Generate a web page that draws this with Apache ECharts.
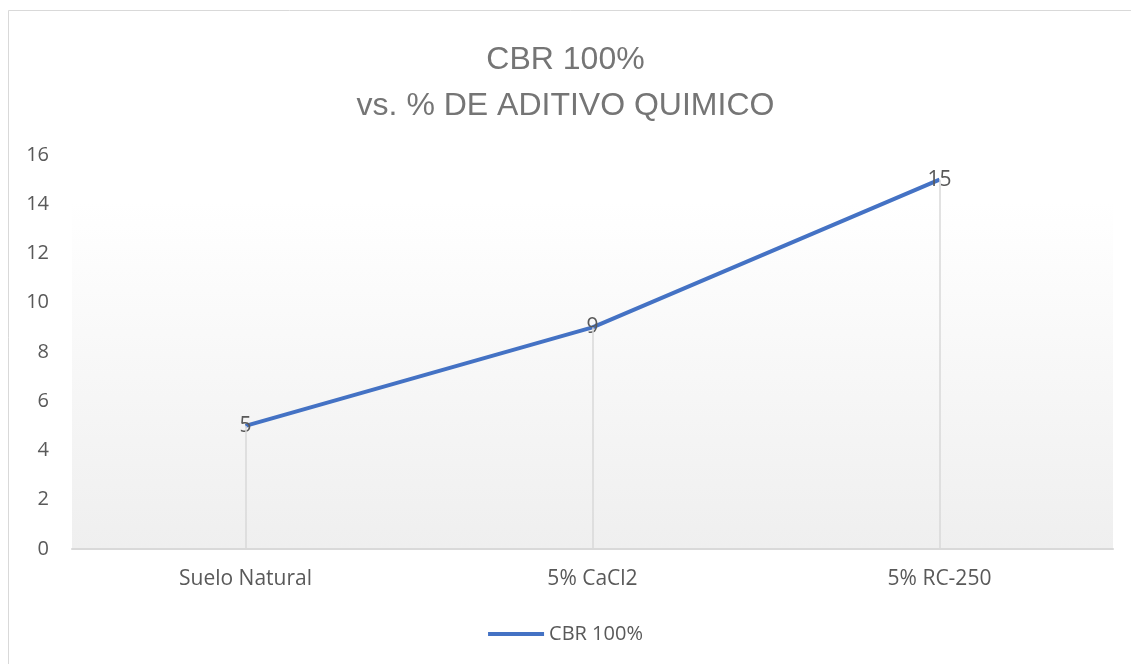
<!DOCTYPE html>
<html>
<head>
<meta charset="utf-8">
<script src="https://cdn.jsdelivr.net/npm/echarts@6/dist/echarts.min.js"></script>
<style>
  html, body { margin: 0; padding: 0; background: #fff; }
  #chart { width: 1131px; height: 664px; }
</style>
</head>
<body>
<div id="chart"></div>
<script>
  // datos
  var categories = ['Suelo Natural', '5% CaCl2', '5% RC-250'];
  var cbrValues = [5, 9, 15];
  var seriesName = 'CBR 100%';
  var titleLines = ['CBR 100%', 'vs. % DE ADITIVO QUIMICO'];

  var titleFont = '"Liberation Sans", sans-serif';
  var font = '"Open Sans", "Noto Sans", sans-serif';

  // lineas de caida desde cada punto al eje
  var dropLines = categories.map(function (c, i) {
    return [{ coord: [i, 0] }, { coord: [i, cbrValues[i]] }];
  });

  var myChart = echarts.init(document.getElementById('chart'));
  var option = {
    backgroundColor: '#fff',
    animation: false,
    title: {
      text: titleLines.join('\n'),
      left: 'center',
      top: 32,
      textStyle: {
        color: '#757575',
        fontFamily: titleFont,
        fontWeight: 'normal',
        fontSize: 32,
        lineHeight: 46
      }
    },
    graphic: [{
      type: 'rect',
      shape: { x: 8.5, y: 10.5, width: 1140, height: 680 },
      style: { fill: 'none', stroke: '#d9d9d9', lineWidth: 1 },
      silent: true
    }],
    legend: {
      bottom: 15,
      left: 'center',
      data: [seriesName],
      itemWidth: 56,
      itemHeight: 4,
      icon: 'rect',
      itemGap: 4,
      textStyle: { color: '#595959', fontFamily: font, fontSize: 20 }
    },
    grid: {
      left: 72,
      right: 18,
      top: 155,
      bottom: 115,
      show: true,
      borderWidth: 0,
      backgroundColor: {
        type: 'linear', x: 0, y: 0, x2: 0, y2: 1,
        colorStops: [
          { offset: 0, color: '#ffffff' },
          { offset: 0.12, color: '#ffffff' },
          { offset: 1, color: '#efefef' }
        ]
      }
    },
    xAxis: {
      type: 'category',
      boundaryGap: true,
      data: categories,
      axisLine: { lineStyle: { color: '#d9d9d9', width: 2 } },
      axisTick: { show: false },
      axisLabel: { color: '#595959', fontFamily: font, fontSize: 21, margin: 20 }
    },
    yAxis: {
      type: 'value',
      min: 0,
      max: 16,
      interval: 2,
      axisLine: { show: false },
      axisTick: { show: false },
      splitLine: { show: false },
      axisLabel: { color: '#595959', fontFamily: font, fontSize: 20, margin: 23 }
    },
    series: [{
      name: seriesName,
      type: 'line',
      data: cbrValues,
      symbol: 'circle',
      symbolSize: 0,
      lineStyle: { color: '#4472C4', width: 4 },
      itemStyle: { color: '#4472C4' },
      label: {
        show: true,
        position: 'inside',
        color: '#595959',
        fontFamily: font,
        fontSize: 21
      },
      markLine: {
        silent: true,
        symbol: 'none',
        label: { show: false },
        lineStyle: { color: '#d9d9d9', type: 'solid', width: 1.5 },
        data: dropLines
      },
      z: 3
    }]
  };
  myChart.setOption(option);
</script>
</body>
</html>
